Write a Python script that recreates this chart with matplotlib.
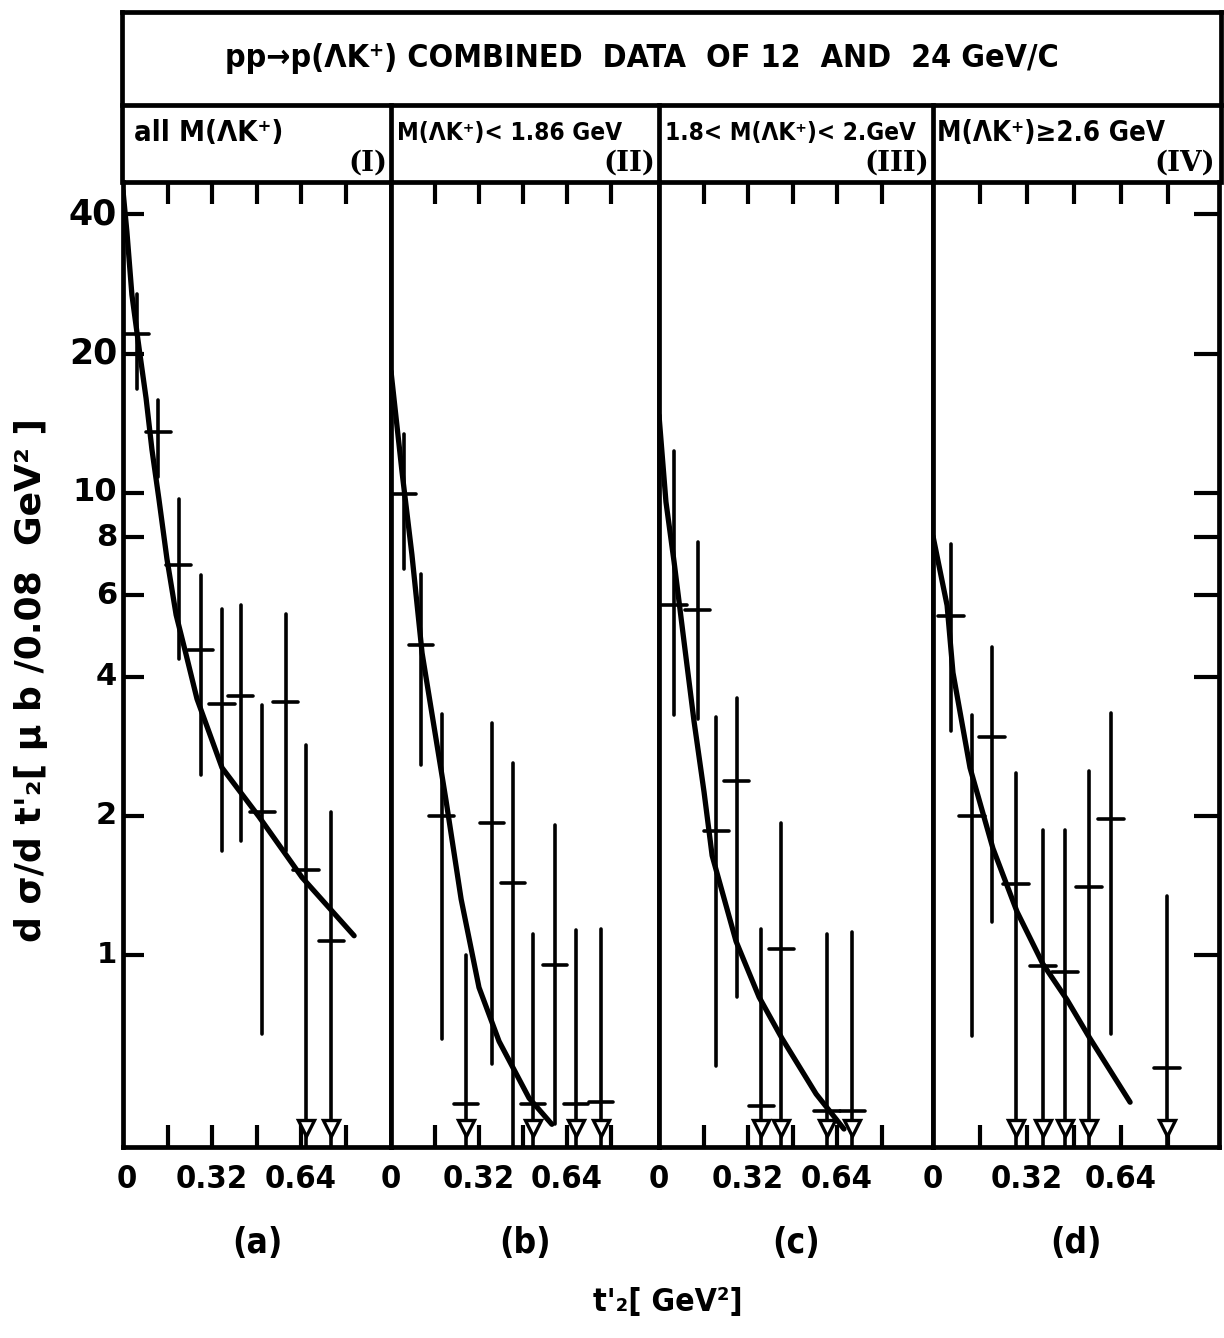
import matplotlib
matplotlib.use('Agg')
import matplotlib.pyplot as plt
from matplotlib import font_manager
from matplotlib.lines import Line2D
from matplotlib.ticker import FixedLocator, NullFormatter, NullLocator

W, H = 1224, 1338

# ---- pick a narrow / condensed bold face if one is installed ----
def pick_narrow():
    prefs = ['Liberation Sans Narrow', 'DejaVu Sans', 'Roboto Condensed',
             'Open Sans Condensed', 'Noto Sans']
    cands = [f for f in font_manager.fontManager.ttflist
             if ('Narrow' in f.name or 'Condensed' in f.name or 'Cond' in f.fname
                 or f.stretch in ('condensed', 'semi-condensed', 'extra-condensed', 'ultra-condensed'))]
    def wt(f):
        w = f.weight
        if isinstance(w, str):
            w = {'bold': 700, 'normal': 400}.get(w, 400)
        return w
    best = None
    for p in prefs:
        for f in cands:
            if f.name == p and wt(f) >= 600:
                best = f
                break
        if best:
            break
    if best is None:
        for f in cands:
            if wt(f) >= 600:
                best = f
                break
    if best is None:
        return 'DejaVu Sans', 'normal'
    st = best.stretch if isinstance(best.stretch, str) else 'condensed'
    return best.name, st

NARROW, STRETCH = pick_narrow()
FAM = [NARROW, 'DejaVu Sans']
ROUND = ['DejaVu Sans']

# ---------------- data ----------------
title = "pp\u2192p(\u039bK\u207a) COMBINED  DATA  OF 12  AND  24 GeV/C"
cell_titles = ["all M(\u039bK\u207a)", "M(\u039bK\u207a)< 1.86 GeV",
               "1.8< M(\u039bK\u207a)< 2.GeV", "M(\u039bK\u207a)\u22652.6 GeV"]
roman = ["(I)", "(II)", "(III)", "(IV)"]
panel_letters = ["(a)", "(b)", "(c)", "(d)"]
ytick_vals = [1, 2, 4, 6, 8, 10, 20, 40]
ytick_labels = ["1", "2", "4", "6", "8", "10", "20", "40"]
xtick_vals = [0.16, 0.32, 0.48, 0.64, 0.80]
xlabel_vals = [0, 0.32, 0.64]
xlabel_text = ["0", "0.32", "0.64"]
ylabel_text = "d \u03c3/d t'\u2082[ \u03bc b /0.08  GeV\u00b2 ]"
xlabel_str = "t'\u2082[ GeV\u00b2]"

# panel (a)
a_t   = [0.050, 0.126, 0.201, 0.280, 0.356, 0.424, 0.500, 0.586, 0.658, 0.748]
a_y   = [22.0, 13.5, 6.99, 4.57, 3.49, 3.64, 2.04, 3.53, 1.53, 1.07]
a_hi  = [26.9, 15.9, 9.7, 6.64, 5.6, 5.72, 3.47, 5.47, 2.85, 2.04]
a_lo  = [16.8, 10.8, 4.37, 2.45, 1.68, 1.76, 0.675, 1.68, 0.0, 0.0]
a_lim = [0, 0, 0, 0, 0, 0, 0, 0, 1, 1]
a_ct  = [0.0, 0.014, 0.032, 0.058, 0.083, 0.104, 0.129, 0.158, 0.191, 0.227, 0.266,
         0.356, 0.489, 0.644, 0.831]
a_cy  = [45.0, 36.7, 26.8, 20.5, 16.0, 12.4, 9.7, 7.19, 5.44, 4.46, 3.58,
         2.54, 1.99, 1.47, 1.10]

# panel (b)
b_t   = [0.047, 0.109, 0.185, 0.273, 0.367, 0.444, 0.516, 0.596, 0.673, 0.764]
b_y   = [9.95, 4.69, 2.0, 0.476, 1.93, 1.43, 0.476, 0.95, 0.476, 0.48]
b_hi  = [13.4, 6.68, 3.32, 1.0, 3.18, 2.6, 1.11, 1.91, 1.13, 1.14]
b_lo  = [6.85, 2.58, 0.658, 0.0, 0.58, 0.30, 0.0, 0.43, 0.0, 0.0]
b_lim = [0, 0, 0, 1, 0, 0, 1, 0, 1, 1]
b_ct  = [0.0, 0.040, 0.076, 0.113, 0.200, 0.255, 0.320, 0.393, 0.502, 0.585]
b_cy  = [18.3, 11.1, 7.35, 4.5, 2.16, 1.32, 0.85, 0.65, 0.49, 0.43]

# panel (c)
c_t   = [0.054, 0.140, 0.205, 0.280, 0.367, 0.439, 0.604, 0.694]
c_y   = [5.72, 5.58, 1.85, 2.38, 0.47, 1.03, 0.46, 0.46]
c_hi  = [12.3, 7.83, 3.27, 3.6, 1.14, 1.93, 1.11, 1.12]
c_lo  = [3.31, 3.24, 0.575, 0.81, 0.0, 0.0, 0.0, 0.0]
c_lim = [0, 0, 0, 0, 1, 1, 1, 1]
c_ct  = [0.0, 0.025, 0.054, 0.090, 0.126, 0.162, 0.191, 0.277, 0.360, 0.442, 0.565, 0.665]
c_cy  = [14.7, 9.55, 7.10, 4.76, 3.20, 2.25, 1.64, 1.07, 0.81, 0.66, 0.50, 0.42]

# panel (d)
d_t   = [0.061, 0.133, 0.201, 0.283, 0.374, 0.449, 0.531, 0.606, 0.797]
d_y   = [5.42, 2.0, 2.96, 1.42, 0.946, 0.92, 1.40, 1.97, 0.57]
d_hi  = [7.75, 3.3, 4.64, 2.48, 1.86, 1.86, 2.5, 3.34, 1.34]
d_lo  = [3.05, 0.668, 1.18, 0.0, 0.0, 0.0, 0.0, 0.675, 0.0]
d_lim = [0, 0, 0, 1, 1, 1, 1, 0, 1]
d_ct  = [0.0, 0.048, 0.068, 0.126, 0.204, 0.286, 0.374, 0.456, 0.534, 0.671]
d_cy  = [8.05, 5.7, 4.08, 2.54, 1.70, 1.24, 0.956, 0.80, 0.66, 0.48]

panels = [
    (a_t, a_y, a_hi, a_lo, a_lim, a_ct, a_cy),
    (b_t, b_y, b_hi, b_lo, b_lim, b_ct, b_cy),
    (c_t, c_y, c_hi, c_lo, c_lim, c_ct, c_cy),
    (d_t, d_y, d_hi, d_lo, d_lim, d_ct, d_cy),
]

# ---------------- layout (pixels) ----------------
px_bounds = [123, 391, 659, 933, 1219]
px_per_016 = [44.5, 44.0, 44.5, 47.0]
y_top_px, y_bot_px = 182, 1147
ylim = (0.384, 47.0)
XERR = 0.045

fig = plt.figure(figsize=(W / 100, H / 100), dpi=100)
fig.patch.set_facecolor('white')

def fx(px):
    return px / W

def fy(py):
    return 1 - py / H

LW = 3.4
axes = []
xt_texts = []
letter_texts = []
for i, (t, y, hi, lo, lim, ct, cy) in enumerate(panels):
    x0, x1 = px_bounds[i], px_bounds[i + 1]
    ax = fig.add_axes([fx(x0), fy(y_bot_px), fx(x1 - x0), (y_bot_px - y_top_px) / H])
    axes.append(ax)
    ax.set_yscale('log')
    ax.set_ylim(*ylim)
    ax.set_xlim(0, (x1 - x0) / px_per_016[i] * 0.16)
    for s in ax.spines.values():
        s.set_linewidth(LW)
        s.set_color('black')
    ax.yaxis.set_major_locator(NullLocator())
    ax.yaxis.set_minor_locator(NullLocator())
    ax.xaxis.set_major_locator(FixedLocator(xtick_vals))
    ax.xaxis.set_minor_locator(NullLocator())
    ax.xaxis.set_major_formatter(NullFormatter())
    ax.tick_params(axis='x', which='major', direction='in', length=16, width=3,
                   top=True, bottom=True, color='black')
    if i == 0:
        ax.yaxis.set_major_locator(FixedLocator(ytick_vals))
        ax.yaxis.set_major_formatter(NullFormatter())
        ax.tick_params(axis='y', which='major', direction='in', length=15, width=3,
                       left=True, right=False)
    if i == 3:
        ax.yaxis.set_major_locator(FixedLocator(ytick_vals))
        ax.yaxis.set_major_formatter(NullFormatter())
        ax.tick_params(axis='y', which='major', direction='in', length=18, width=3,
                       left=False, right=True)

    # fitted curve
    ax.plot(ct, cy, color='black', lw=3.8, solid_capstyle='round',
            solid_joinstyle='round', zorder=3)
    # data with error bars
    ybottom = ylim[0]
    for tj, yj, hj, lj, mj in zip(t, y, hi, lo, lim):
        low = ybottom if (mj or lj <= ybottom) else lj
        ax.plot([tj, tj], [low, hj], color='black', lw=2.6, solid_capstyle='round',
                zorder=4)
        ax.plot([tj - XERR, tj + XERR], [yj, yj], color='black', lw=2.6,
                solid_capstyle='round', zorder=4)
        if mj:
            ax.plot([tj], [0.422], marker='v', markersize=11, markerfacecolor='white',
                    markeredgecolor='black', markeredgewidth=2.4, zorder=5,
                    clip_on=False)
    # x tick labels
    for v, s in zip(xlabel_vals, xlabel_text):
        tt = ax.text(v + (0.012 if (v == 0 and i == 0) else 0.0), -0.018, s,
                     transform=ax.get_xaxis_transform(), ha='center', va='top',
                     fontsize=27, fontweight='bold', family=FAM, fontstretch=STRETCH)
        xt_texts.append(tt)
    # panel letter
    lt = ax.text(0.5, -0.082, panel_letters[i], transform=ax.transAxes, ha='center',
                 va='top', fontsize=28, fontweight='bold', family=FAM,
                 fontstretch=STRETCH)
    letter_texts.append(lt)

# y tick labels (outside left of panel a)
ax0 = axes[0]
ysizes = {40: 25, 20: 25, 10: 23, 8: 22, 6: 22, 4: 22, 2: 22, 1: 21}
for v, s in zip(ytick_vals, ytick_labels):
    ax0.text(-0.022, v, s, transform=ax0.get_yaxis_transform(), ha='right',
             va='center', fontsize=ysizes[v], fontweight='bold', family=ROUND)

# y label
ylab = fig.text(fx(31), fy(680), ylabel_text, rotation=90, ha='center', va='center',
                fontsize=24, fontweight='bold', family=ROUND)
# x label
xlab = fig.text(fx(668), fy(1302), xlabel_str, ha='center', va='center',
                fontsize=26, fontweight='bold', family=FAM, fontstretch=STRETCH)

# header frame
def line(x0, y0, x1, y1, lw=LW):
    fig.add_artist(Line2D([fx(x0), fx(x1)], [fy(y0), fy(y1)], color='black', lw=lw,
                          solid_capstyle='projecting'))

line(122, 12, 1221, 12)
line(122, 12, 122, 182)
line(1221, 12, 1221, 182)
line(122, 105, 1221, 105)
for xb in px_bounds[1:-1]:
    line(xb, 105, xb, 182)

ttl = fig.text(fx(642), fy(58), title, ha='center', va='center', fontsize=29,
               fontweight='bold', family=FAM, fontstretch=STRETCH)
cell_x = [134, 397, 665, 937]
cell_w = [155, 225, 250, 228]
cell_texts = []
for i in range(4):
    ct_ = fig.text(fx(cell_x[i]), fy(133), cell_titles[i], ha='left', va='center',
                   fontsize=22, fontweight='bold', family=FAM, fontstretch=STRETCH)
    cell_texts.append(ct_)
    fig.text(fx(px_bounds[i + 1] - 4), fy(163), roman[i], ha='right', va='center',
             fontsize=20, fontweight='bold', family=['DejaVu Serif'])

# ---- size texts to the widths seen in the reference ----
fig.canvas.draw()
rend = fig.canvas.get_renderer()

def fit(t, target, dim='w', cap=None):
    bb = t.get_window_extent(rend)
    cur = bb.width if dim == 'w' else bb.height
    if cur > 0:
        fs = t.get_fontsize() * target / cur
        if cap is not None:
            fs = min(fs, cap)
        t.set_fontsize(fs)

fit(ttl, 835, cap=34)
for t_, w_ in zip(cell_texts, cell_w):
    fit(t_, w_, cap=21)
ref = [t_ for t_ in xt_texts if t_.get_text() == "0.32"][0]
bb = ref.get_window_extent(rend)
xs = min(ref.get_fontsize() * 72 / bb.width, 30)
for t_ in xt_texts:
    t_.set_fontsize(xs)
lb = letter_texts[0].get_window_extent(rend)
ls = min(letter_texts[0].get_fontsize() * 50 / lb.width, 32)
for t_ in letter_texts:
    t_.set_fontsize(ls)
fit(xlab, 150, cap=30)
fit(ylab, 640, dim='h', cap=26)

fig.savefig('out.png', dpi=100, facecolor='white')
